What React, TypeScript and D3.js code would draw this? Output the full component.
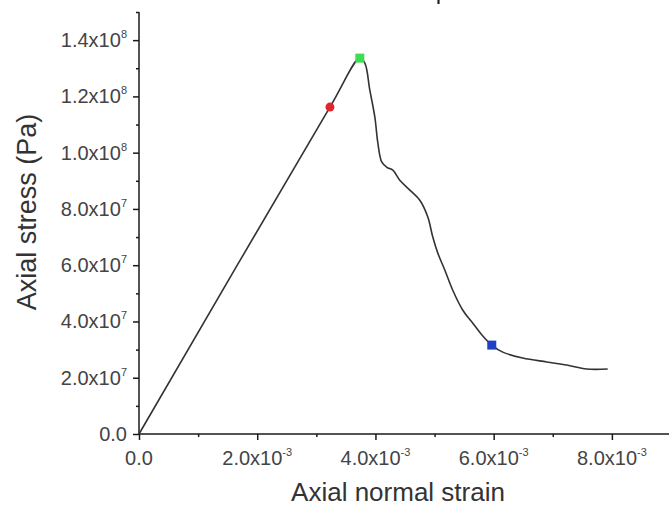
import React, { useRef, useEffect } from "react";
import * as d3 from "d3";

// strain (-) vs axial stress (Pa)
const strain = [
  0, 3.23e-3, 3.736e-3, 3.821e-3, 3.905e-3, 3.99e-3, 4.041e-3, 4.108e-3, 4.193e-3,
  4.294e-3, 4.412e-3, 4.582e-3, 4.751e-3, 4.886e-3, 4.97e-3, 5.055e-3, 5.173e-3,
  5.308e-3, 5.478e-3, 5.647e-3, 5.816e-3, 5.968e-3, 6.154e-3, 6.492e-3, 6.898e-3,
  7.236e-3, 7.574e-3, 7.929e-3
];
const stress = [
  0, 1.162e8, 1.336e8, 1.318e8, 1.222e8, 1.126e8, 1.034e8, 9.66e7, 9.48e7,
  9.38e7, 9.02e7, 8.67e7, 8.31e7, 7.71e7, 7.0e7, 6.43e7, 5.83e7,
  5.11e7, 4.4e7, 3.94e7, 3.48e7, 3.16e7, 2.91e7, 2.7e7, 2.56e7,
  2.45e7, 2.31e7, 2.31e7
];

// highlighted points: initiation (red), peak (green), residual (blue)
const markerNames = ["initiation", "peak", "residual"];
const markerStrain = [3.23e-3, 3.736e-3, 5.968e-3];
const markerStress = [1.162e8, 1.336e8, 3.16e7];

const xTicks = [0, 2e-3, 4e-3, 6e-3, 8e-3];
const xTickLabels = ["0.0", "2.0x10^-3", "4.0x10^-3", "6.0x10^-3", "8.0x10^-3"];
const xMinor = [1e-3, 3e-3, 5e-3, 7e-3, 9e-3];
const yTicks = [0, 2e7, 4e7, 6e7, 8e7, 1e8, 1.2e8, 1.4e8];
const yTickLabels = ["0.0", "2.0x10^7", "4.0x10^7", "6.0x10^7", "8.0x10^7", "1.0x10^8", "1.2x10^8", "1.4x10^8"];
const yMinor = [1e7, 3e7, 5e7, 7e7, 9e7, 1.1e8, 1.3e8, 1.5e8];

const W = 669;
const H = 508;
const font = "'Liberation Sans', Arial, sans-serif";

const addLabel = (sel, label) => {
  let parts = label.split("^");
  sel.append("tspan").text(parts[0]);
  if (parts[1]) {
    sel.append("tspan").attr("dy", -9).attr("font-size", 11).text(parts[1]);
  }
};

const App = () => {
  let ref = useRef(null);

  useEffect(() => {
    let svg = d3.select(ref.current);
    svg.selectAll("*").remove();

    let x = d3.scaleLinear().domain([0, 9e-3]).range([139, 671]);
    let y = d3.scaleLinear().domain([0, 1.5e8]).range([434, 12]);

    // bit of the caption above the figure, cut off by the crop
    svg.append("text")
      .attr("x", 343).attr("y", -1)
      .attr("text-anchor", "end")
      .attr("font-family", font).attr("font-size", 24).attr("fill", "#222")
      .text("the ratio of the initiation stress");
    svg.append("text")
      .attr("x", 349).attr("y", -1)
      .attr("font-family", font).attr("font-size", 24).attr("fill", "#222")
      .text("and the peak stress he");

    let axisColor = "#1a1a1a";

    // y axis
    let gy = svg.append("g").attr("transform", "translate(139,0)");
    gy.call(d3.axisLeft(y).tickValues(yTicks).tickSize(6).tickFormat(() => ""));
    gy.append("g").call(d3.axisLeft(y).tickValues(yMinor).tickSize(3).tickFormat(() => ""));
    gy.selectAll("path.domain").remove();
    gy.append("line").attr("x1", 0).attr("x2", 0).attr("y1", y(1.5e8)).attr("y2", y(0));
    gy.selectAll("line").attr("stroke", axisColor).attr("stroke-width", 1.5);

    // x axis
    let gx = svg.append("g").attr("transform", "translate(0,434)");
    gx.call(d3.axisBottom(x).tickValues(xTicks).tickSize(6).tickFormat(() => ""));
    gx.append("g").call(d3.axisBottom(x).tickValues(xMinor).tickSize(3).tickFormat(() => ""));
    gx.selectAll("path.domain").remove();
    gx.append("line").attr("x1", x(0)).attr("x2", x(9e-3)).attr("y1", 0).attr("y2", 0);
    gx.selectAll("line").attr("stroke", axisColor).attr("stroke-width", 1.5);

    // tick labels
    yTicks.forEach((v, i) => {
      let t = svg.append("text")
        .attr("x", 127).attr("y", y(v) + 7)
        .attr("text-anchor", "end")
        .attr("font-family", font).attr("font-size", 20).attr("fill", "#444");
      addLabel(t, yTickLabels[i]);
    });
    xTicks.forEach((v, i) => {
      let t = svg.append("text")
        .attr("x", x(v)).attr("y", 465)
        .attr("text-anchor", "middle")
        .attr("font-family", font).attr("font-size", 20).attr("fill", "#444");
      addLabel(t, xTickLabels[i]);
    });

    // axis titles
    svg.append("text")
      .attr("transform", "translate(36,212) rotate(-90)")
      .attr("text-anchor", "middle")
      .attr("font-family", font).attr("font-size", 27).attr("fill", "#333")
      .text("Axial stress (Pa)");
    svg.append("text")
      .attr("x", 398).attr("y", 501)
      .attr("text-anchor", "middle")
      .attr("font-family", font).attr("font-size", 26).attr("fill", "#333")
      .text("Axial normal strain");

    // curve
    let line = d3.line()
      .x((d, i) => x(strain[i]))
      .y((d, i) => y(stress[i]))
      .curve(d3.curveCatmullRom.alpha(0.5));
    svg.append("path")
      .attr("d", line(strain))
      .attr("fill", "none")
      .attr("stroke", "#333")
      .attr("stroke-width", 1.6);

    // markers
    let colors = { initiation: "#e0262b", peak: "#3ddc52", residual: "#2040c8" };
    markerNames.forEach((name, i) => {
      let cx = x(markerStrain[i]);
      let cy = y(markerStress[i]);
      if (name === "initiation") {
        svg.append("circle").attr("cx", cx).attr("cy", cy).attr("r", 4.5).attr("fill", colors[name]);
      } else {
        svg.append("rect")
          .attr("x", cx - 4.5).attr("y", cy - 4.5)
          .attr("width", 9).attr("height", 9)
          .attr("fill", colors[name]);
      }
    });
  }, []);

  return (
    <svg
      ref={ref}
      width={W}
      height={H}
      style={{ position: "absolute", left: 0, top: 0, background: "#fff" }}
    />
  );
};

export default App;
